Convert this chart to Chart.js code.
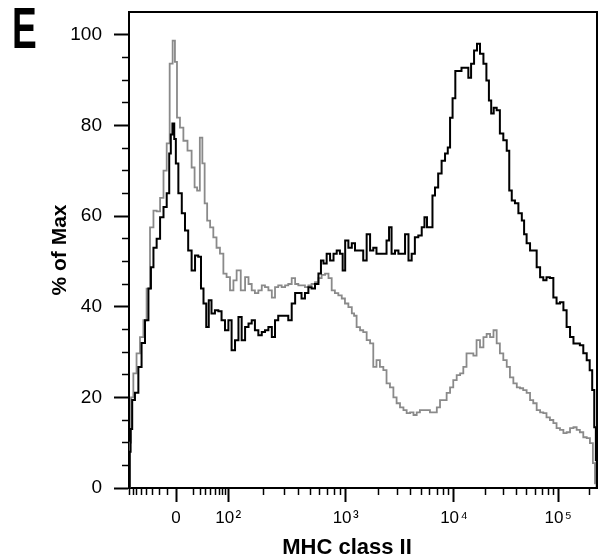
<!DOCTYPE html>
<html>
<head>
<meta charset="utf-8">
<script src="https://cdn.jsdelivr.net/npm/chart.js@4.4.1/dist/chart.umd.min.js"></script>
<style>
  body { margin: 0; background: #fff; }
  #wrap { position: relative; width: 599px; height: 558px; }
  #panel { position: absolute; left: 12px; top: -1px; font: bold 58px "Liberation Sans", Arial, sans-serif; line-height: 58px; transform: scaleX(0.64); transform-origin: left top; }
  #xtitle { position: absolute; left: 247px; top: 536px; width: 200px; text-align: center; font: bold 22px "Liberation Sans", Arial, sans-serif; line-height: 22px; }
</style>
</head>
<body>
<div id="wrap">
  <canvas id="graph" width="599" height="558"></canvas>
  <div id="panel">E</div>
  <div id="xtitle">MHC class II</div>
</div>
<script>
// display channel (0-1024) of each histogram point
var blackChannel = [1,2,5,9,17,24,31,39,46,50,57,64,72,79,86,90,93,97,101,104,112,119,126,133,141,148,155,160,166,172,177,184,192,199,206,214,221,228,236,243,250,258,265,272,279,287,294,301,309,316,323,330,338,345,352,360,367,374,381,389,396,403,411,418,422,429,436,444,451,458,465,470,476,484,491,498,509,516,524,531,538,545,553,560,567,571,578,586,593,600,608,615,622,629,637,644,649,655,662,666,673,680,688,695,700,705,711,717,724,731,739,746,751,759,764,772,779,785,790,795,801,808,815,823,830,834,841,848,856,863,866,874,881,888,896,903,910,917,925,932,939,947,954,961,969,976,983,990,998,1005,1011,1016,1020,1023,1024];
var blackPct = [0,8,13,19.4,21,26.7,32,37,44,48.7,53,55,59.7,62,65,73.8,78,80.4,77,71.6,65,60.6,56.8,52.4,48,51.3,51,44,40.7,35.5,41.4,38.5,39.2,39,37,34.8,37,30.4,32.6,37.7,32.6,35.5,36.3,37,34.8,33.7,34.4,34.8,35.5,33.3,37,38,38,38,37,40.7,43,43,41.8,43,44.3,44,45,47.3,50.2,49.5,51.7,50.2,51.7,52.4,51.7,48,54.6,53,54,52.4,52.4,50.2,56,52.4,53,51.7,51.7,51.7,54.6,57.5,51.7,52.4,51.7,51.7,56,50.2,51.7,55.3,55.7,57.5,59.7,57.5,57.5,64.5,66.3,69.4,72.2,73.8,75.1,81.7,86,92,92,92.7,92.7,90.5,93.6,96.5,98,95.8,93.6,89.9,85.5,82.6,83.9,83.3,78.2,76.7,74.4,65.6,63.4,62.8,60.6,59,56,54,52.4,52.4,48.7,46.5,45.8,46.5,46.3,42,40.7,41,39.2,35.5,33.3,31.9,31.9,31.5,29.7,28.2,26,21.6,13.4,6.2,0];

var grayChannel = [1,3,6,13,20,28,35,42,50,57,64,72,79,86,92,99,102,108,115,123,133,141,146,152,158,163,168,174,181,188,195,203,210,217,225,232,239,250,258,265,272,279,287,294,301,309,316,323,330,338,345,352,360,367,374,381,389,396,403,411,418,425,433,440,447,454,462,469,476,484,491,494,502,509,516,524,531,538,545,553,560,567,575,582,589,597,604,611,619,626,633,640,648,655,662,670,677,684,691,699,706,713,721,728,735,742,750,757,764,772,779,786,794,801,808,815,823,830,837,845,852,859,866,874,881,888,896,903,910,917,925,932,939,947,954,961,969,976,983,990,998,1005,1012,1018,1021];
var grayPct = [0,10,20,25.3,29.7,33.3,37,44,57.5,61.2,61,64,70,76,93.6,98.7,94,81.7,79.5,76.6,74.4,70.7,66.3,65.6,77.3,71.6,62.8,59,57.5,55.3,53,51.7,47.3,46.5,43.6,45.8,48,43.6,46.5,45,43.6,43,43.6,44.7,44.3,43.6,42,44.3,44.7,44.3,44.7,45,46.3,45,44.7,44.7,44.3,44.7,45,45.4,46.3,47,47.3,46.3,43.6,43,42.5,41.8,40.7,39.9,38.5,38,35.5,34.8,34.4,32.6,31.9,26.7,28.2,26.7,26,23.1,22.2,20,18.7,17.8,17.2,16.5,16.7,16.1,16.7,17.2,17.2,17.2,16.7,16.7,17.8,19.4,19.4,21,22.2,23.8,24.9,25.3,26.7,29.7,29.7,29.2,32.6,31,33.3,34,33.3,34.8,31.9,29.7,28.2,26.7,24.4,23.1,22.2,22,21.6,21,19.4,18.7,17.2,16.7,16.5,15.6,15,14.3,13.2,12.8,12.1,12.3,13.2,13.4,12.8,12.3,11.2,11,9.9,5.5,1];

// axis labels
var xTickValues = [0, 100, 1000, 10000, 100000];
var xTickLabels = ['0', '10\u200a\u00b2', '10\u200a\u00b3', '10\u200a\u2074', '10\u200a\u2075'];
var yTickValues = [0, 20, 40, 60, 80, 100];

// biexponential display: channel of zero and of each decade
var zeroChannel = 103;
var decadeChannel = {2: 217, 3: 474, 4: 711, 5: 939};

function toChannel(v) {
  if (v < 100) {
    return zeroChannel + (decadeChannel[2] - zeroChannel) * Math.asinh(v / 30) / Math.asinh(100 / 30);
  }
  var lg = Math.log10(v);
  var d = Math.min(Math.floor(lg), 4);
  return decadeChannel[d] + (decadeChannel[d + 1] - decadeChannel[d]) * (lg - d);
}

var xMinorValues = [];
for (var n = -80; n <= 90; n += 10) {
  if (n !== 0 && n !== 10) xMinorValues.push(n);
}
for (var d = 2; d <= 4; d++) {
  for (var k = 2; k <= 9; k++) xMinorValues.push(k * Math.pow(10, d));
}
xMinorValues.push(200000);

var yMinorValues = [];
for (var m = 0; m <= 100; m += 5) {
  if (m % 20 !== 0) yMinorValues.push(m);
}

function toPoints(xs, ys) {
  return xs.map(function (x, i) { return {x: x, y: ys[i]}; });
}

// fixed axis size, no extra room asked for the end labels
function fixSize(w, h) {
  return function (s) {
    if (w !== null) s.width = w;
    if (h !== null) s.height = h;
    s.paddingTop = 0; s.paddingBottom = 0; s.paddingLeft = 0; s.paddingRight = 0;
  };
}

var fontFamily = '"Liberation Sans", Arial, sans-serif';

var frame = {
  id: 'frame',
  afterDraw: function (chart) {
    var a = chart.chartArea;
    var ctx = chart.ctx;
    ctx.save();
    ctx.strokeStyle = '#000';
    ctx.lineWidth = 2;
    ctx.beginPath();
    ctx.moveTo(a.left, a.top);
    ctx.lineTo(a.right, a.top);
    ctx.lineTo(a.right, a.bottom);
    ctx.stroke();
    ctx.restore();
  }
};

var config = {
  type: 'line',
  data: {
    datasets: [
      {
        label: 'MHC class II',
        data: toPoints(blackChannel, blackPct),
        borderColor: '#000',
        borderWidth: 2,
        pointRadius: 0,
        stepped: 'middle',
        fill: false
      },
      {
        label: 'control',
        data: toPoints(grayChannel, grayPct),
        borderColor: '#8a8a8a',
        borderWidth: 1.8,
        pointRadius: 0,
        stepped: 'middle',
        fill: false
      }
    ]
  },
  options: {
    responsive: false,
    animation: false,
    layout: { padding: { left: 44, right: 2, top: 12, bottom: 0 } },
    plugins: { legend: { display: false }, tooltip: { enabled: false } },
    scales: {
      x: {
        type: 'linear', position: 'bottom', weight: 1, min: 0, max: 1024,
        afterFit: fixSize(null, 70),
        afterBuildTicks: function (s) { s.ticks = xTickValues.map(function (v) { return {value: toChannel(v)}; }); },
        ticks: {
          autoSkip: false, maxRotation: 0, color: '#000', padding: 6,
          font: { family: fontFamily, size: 17 },
          callback: function (v, i) { return xTickLabels[i]; }
        },
        grid: { drawOnChartArea: false, tickLength: 14, tickWidth: 2, color: '#000' },
        border: { display: true, color: '#000', width: 2 }
      },
      xMinor: {
        type: 'linear', position: 'bottom', weight: 0, min: 0, max: 1024,
        afterFit: fixSize(null, 0),
        afterBuildTicks: function (s) { s.ticks = xMinorValues.map(function (v) { return {value: toChannel(v)}; }); },
        ticks: { display: false },
        grid: { drawOnChartArea: false, tickLength: 7, tickWidth: 1.5, color: '#000' },
        border: { display: false }
      },
      y: {
        type: 'linear', position: 'left', weight: 1, min: 0, max: 105,
        afterFit: fixSize(85, null),
        afterBuildTicks: function (s) { s.ticks = yTickValues.map(function (v) { return {value: v}; }); },
        ticks: { color: '#000', padding: 12, font: { family: fontFamily, size: 19 } },
        grid: { drawOnChartArea: false, tickLength: 15, tickWidth: 2, color: '#000' },
        border: { display: true, color: '#000', width: 2 },
        title: {
          display: true, text: '% of Max', color: '#000',
          font: { family: fontFamily, size: 21, weight: 'bold' },
          padding: { top: 4, bottom: 0 }
        }
      },
      yMinor: {
        type: 'linear', position: 'left', weight: 0, min: 0, max: 105,
        afterFit: fixSize(0, null),
        afterBuildTicks: function (s) { s.ticks = yMinorValues.map(function (v) { return {value: v}; }); },
        ticks: { display: false },
        grid: { drawOnChartArea: false, tickLength: 7, tickWidth: 1.5, color: '#000' },
        border: { display: false }
      }
    }
  },
  plugins: [frame]
};

var myChart = new Chart(document.getElementById('graph'), config);
</script>
</body>
</html>
